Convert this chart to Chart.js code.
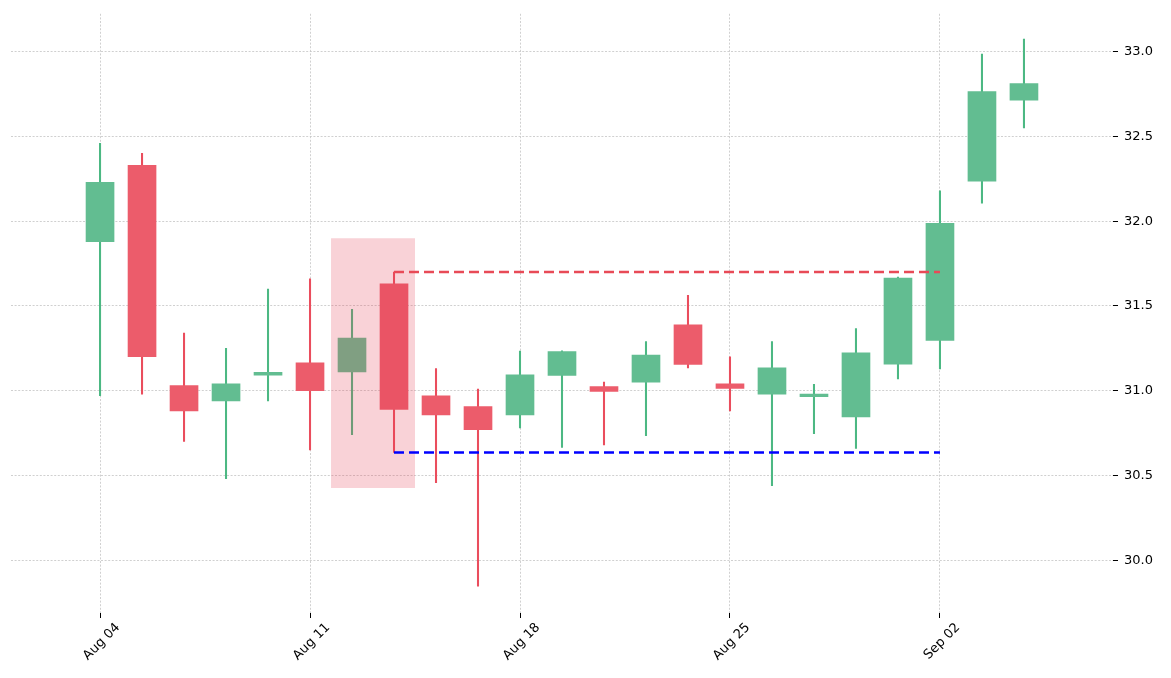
<!DOCTYPE html>
<html>
<head>
<meta charset="utf-8">
<script src="https://cdn.jsdelivr.net/npm/chart.js@4.4.0/dist/chart.umd.min.js"></script>
<style>
  html, body { margin: 0; padding: 0; background: #fff; }
  #wrap { width: 1171px; height: 678px; position: relative; }
</style>
</head>
<body>
<div id="wrap"><canvas id="chart"></canvas></div>
<script>
'use strict';

// trading days (Sep 01 holiday skipped)
var dates = ['Aug 04','Aug 05','Aug 06','Aug 07','Aug 08',
             'Aug 11','Aug 12','Aug 13','Aug 14','Aug 15',
             'Aug 18','Aug 19','Aug 20','Aug 21','Aug 22',
             'Aug 25','Aug 26','Aug 27','Aug 28','Aug 29',
             'Sep 02','Sep 03','Sep 04'];

var opens  = [31.88, 32.33, 31.03, 30.94, 31.092, 31.165, 31.11, 31.63, 30.97, 30.906, 30.857, 31.09,
              31.024, 31.05, 31.388, 31.041, 30.98, 30.965, 30.845, 31.157, 31.296, 32.237, 32.714];
var highs  = [32.46, 32.40, 31.34, 31.25, 31.60, 31.66, 31.48, 31.70, 31.13, 31.01, 31.234, 31.235,
              31.05, 31.29, 31.563, 31.20, 31.29, 31.037, 31.367, 31.67, 32.18, 32.986, 33.075];
var lows   = [30.97, 30.98, 30.70, 30.48, 30.94, 30.65, 30.74, 30.635, 30.457, 29.847, 30.78, 30.665,
              30.68, 30.735, 31.135, 30.88, 30.44, 30.747, 30.659, 31.07, 31.128, 32.106, 32.551];
var closes = [32.23, 31.20, 30.88, 31.04, 31.108, 31.00, 31.31, 30.89, 30.857, 30.77, 31.094, 31.23,
              30.996, 31.21, 31.155, 31.013, 31.135, 30.98, 31.224, 31.665, 31.988, 32.765, 32.812];

var xTicks = [0, 5, 10, 15, 20];
var yTicks = [30.0, 30.5, 31.0, 31.5, 32.0, 32.5, 33.0];

// pattern box and levels
var patternIdx = [6, 7];
var patternRange = [30.425, 31.90];
var resistance = 31.70;
var support = 30.635;
var levelSpan = [7, 20];

var UP = '#62bd91';
var DOWN = '#ec5c6b';
var UP_WICK = '#4cb883';
var DOWN_WICK = '#ea4d5d';

function isUp(i) { return closes[i] >= opens[i]; }

var bodies = opens.map(function (o, i) { return { x: i, y: [o, closes[i]] }; });
var wicks = highs.map(function (h, i) { return { x: i, y: [lows[i], h] }; });

var ctx = document.getElementById('chart').getContext('2d');
var chart = new Chart(ctx, {
  type: 'bar',
  data: {
    datasets: [
      {
        type: 'line',
        data: [{ x: levelSpan[0], y: resistance }, { x: levelSpan[1], y: resistance }],
        borderColor: '#e84a57',
        borderWidth: 2.6,
        borderDash: [10, 5],
        pointRadius: 0,
        order: 1
      },
      {
        type: 'line',
        data: [{ x: levelSpan[0], y: support }, { x: levelSpan[1], y: support }],
        borderColor: '#0000ff',
        borderWidth: 2.6,
        borderDash: [10, 5],
        pointRadius: 0,
        order: 1
      },
      {
        type: 'line',
        data: [{ x: patternIdx[0] - 0.5, y: patternRange[1] }, { x: patternIdx[1] + 0.5, y: patternRange[1] }],
        borderWidth: 0,
        pointRadius: 0,
        fill: { value: patternRange[0] },
        backgroundColor: 'rgba(230,60,80,0.23)',
        order: 2
      },
      {
        data: bodies,
        backgroundColor: opens.map(function (o, i) { return isUp(i) ? UP : DOWN; }),
        borderWidth: 0,
        barThickness: 28,
        grouped: false,
        order: 3
      },
      {
        data: wicks,
        backgroundColor: opens.map(function (o, i) { return isUp(i) ? UP_WICK : DOWN_WICK; }),
        borderWidth: 0,
        barThickness: 1.4,
        grouped: false,
        order: 4
      }
    ]
  },
  options: {
    responsive: true,
    maintainAspectRatio: false,
    animation: false,
    layout: { padding: { left: 11, top: 12, right: 0, bottom: 0 } },
    plugins: { legend: { display: false }, tooltip: { enabled: false } },
    scales: {
      x: {
        type: 'linear',
        offset: false,
        min: -2.12,
        max: 24.12,
        afterBuildTicks: function (scale) {
          scale.ticks = xTicks.map(function (v) { return { value: v }; });
        },
        afterFit: function (scale) { scale.height = 65; },
        grid: { offset: false, color: '#c4c4c4', lineWidth: 0.8, tickColor: '#000', tickLength: 5, tickWidth: 1 },
        border: { display: false, dash: [2, 1.6] },
        ticks: {
          autoSkip: false,
          maxRotation: 45,
          minRotation: 45,
          labelOffset: 18,
          padding: 2,
          color: '#000',
          font: { family: 'DejaVu Sans', size: 13 },
          callback: function (v) { return dates[v]; }
        }
      },
      y: {
        position: 'right',
        min: 29.688,
        max: 33.224,
        afterBuildTicks: function (scale) {
          scale.ticks = yTicks.map(function (v) { return { value: v }; });
        },
        afterFit: function (scale) { scale.width = 58; },
        grid: { color: '#c4c4c4', lineWidth: 0.8, tickColor: '#000', tickLength: 5, tickWidth: 1 },
        border: { display: false, dash: [2, 1.6] },
        ticks: {
          padding: 6,
          color: '#000',
          font: { family: 'DejaVu Sans', size: 13 },
          callback: function (v) { return v.toFixed(1); }
        }
      }
    }
  }
});
</script>
</body>
</html>
